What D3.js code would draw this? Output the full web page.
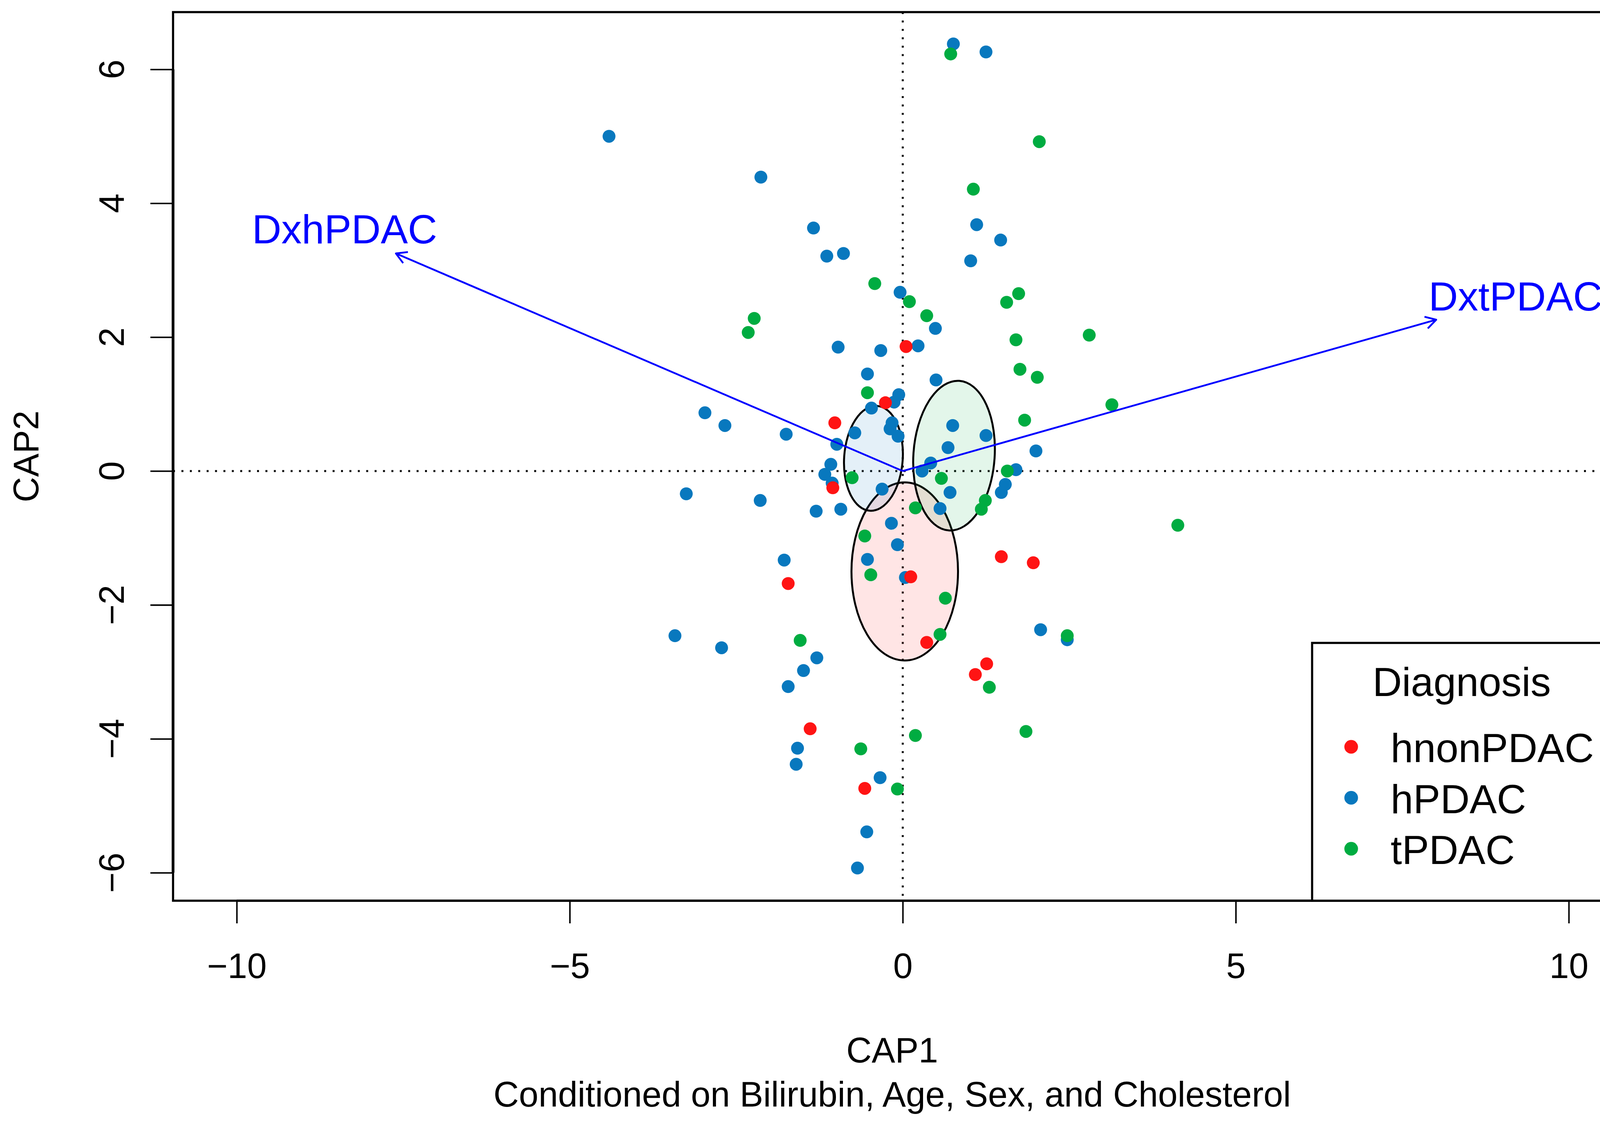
<!DOCTYPE html>
<html><head><meta charset="utf-8">
<script src="https://cdn.jsdelivr.net/npm/d3@7"></script>
<style>
body{margin:0;background:#fff}
svg{display:block}
text{font-family:"Liberation Sans",Arial,sans-serif}
</style>
</head><body>
<svg id="chart" width="4168" height="2870"></svg>
<script>
// ---------------- data ----------------
const groups = ["hnonPDAC", "hPDAC", "tPDAC"];
const groupColors = ["#FF1414", "#0878BE", "#00AC41"];

const hnonX = [0.05, -0.26, -1.02, -1.05, 0.12, -1.72, 1.48, 1.96, 0.36, 1.26, 1.09, -1.39, -0.57];
const hnonY = [1.86, 1.02, 0.72, -0.25, -1.58, -1.68, -1.28, -1.37, -2.56, -2.88, -3.04, -3.85, -4.74];

const hX = [-4.41, -2.13, -1.34, -1.14, -0.89, -0.04, -0.97, -0.33, 0.23, -0.53,
            -0.06, -0.13, -0.47, -2.97, -2.67, -1.75, -0.99, -0.72, -0.16, -0.19,
            -0.07, -1.08, -1.17, -1.06, -0.31, -3.25, -2.14, -1.30, -0.93, -0.17,
            -0.08, -0.53, 0.04, -1.78, -3.42, -2.72, -1.29, -1.49, -1.72, -1.58,
            -1.60, -0.34, -0.54, -0.68, 0.76, 1.25, 1.11, 1.47, 1.02, 0.49,
            0.50, 0.75, 1.25, 0.68, 2.00, 0.42, 0.29, 1.70, 1.54, 1.48,
            0.71, 0.56, 2.07, 2.47];
const hY = [5.00, 4.39, 3.63, 3.21, 3.25, 2.67, 1.85, 1.80, 1.87, 1.45,
            1.14, 1.03, 0.94, 0.87, 0.68, 0.55, 0.40, 0.57, 0.72, 0.63,
            0.52, 0.10, -0.05, -0.18, -0.27, -0.34, -0.44, -0.60, -0.57, -0.78,
            -1.10, -1.32, -1.59, -1.33, -2.46, -2.64, -2.79, -2.98, -3.22, -4.14,
            -4.38, -4.58, -5.39, -5.93, 6.38, 6.26, 3.68, 3.45, 3.14, 2.13,
            1.36, 0.68, 0.53, 0.35, 0.30, 0.12, 0.00, 0.02, -0.20, -0.32,
            -0.32, -0.56, -2.37, -2.52];

const tX = [0.72, 2.05, 1.06, -0.42, 0.10, -2.23, -2.32, 0.36, 1.74, 1.56,
            1.70, 2.80, 1.76, 2.02, -0.53, 3.14, 1.83, -0.76, 1.57, 0.58,
            1.24, 1.18, 0.19, -0.57, -0.48, 4.13, 0.64, 2.47, 0.56, -1.54,
            1.30, -0.63, 0.19, 1.85, -0.08];
const tY = [6.23, 4.92, 4.21, 2.80, 2.53, 2.28, 2.07, 2.32, 2.65, 2.52,
            1.96, 2.03, 1.52, 1.40, 1.17, 0.99, 0.76, -0.10, 0.00, -0.11,
            -0.44, -0.57, -0.55, -0.97, -1.55, -0.81, -1.90, -2.46, -2.44, -2.53,
            -3.23, -4.15, -3.95, -3.89, -4.75];

// ellipses (order: hnonPDAC, hPDAC, tPDAC)
const ellCX = [0.03, -0.44, 0.77];
const ellCY = [-1.50, 0.19, 0.23];
const ellRX = [0.80, 0.44, 0.61];
const ellRY = [1.33, 0.785, 1.12];
const ellAngle = [0, 4, 4];

// biplot arrows
const arrowNames = ["DxhPDAC", "DxtPDAC"];
const arrowX = [-7.61, 8.01];
const arrowY = [3.25, 2.26];
const arrowLabelX = [-8.38, 9.20];
const arrowLabelY = [3.61, 2.61];

const xTicks = [-10, -5, 0, 5, 10];
const yTicks = [-6, -4, -2, 0, 2, 4, 6];
const xDomain = [-10.956, 10.639];
const yDomain = [-6.418, 6.855];

const xTitle = "CAP1";
const subTitle = "Conditioned on Bilirubin, Age, Sex, and Cholesterol";
const yTitle = "CAP2";
const legendTitle = "Diagnosis";

// ---------------- drawing ----------------
const svg = d3.select("#chart");
const L = 443, R = 4125, T = 31, B = 2306;
const x = d3.scaleLinear().domain(xDomain).range([L, R]);
const y = d3.scaleLinear().domain(yDomain).range([B, T]);

svg.append("rect").attr("width", 4168).attr("height", 2870).attr("fill", "#fff");

const clip = svg.append("clipPath").attr("id", "pclip");
clip.append("rect").attr("x", L).attr("y", T).attr("width", R - L).attr("height", B - T);
const plot = svg.append("g").attr("clip-path", "url(#pclip)");

// dotted reference lines
plot.append("line").attr("x1", L).attr("x2", R).attr("y1", y(0)).attr("y2", y(0))
  .attr("stroke", "#000").attr("stroke-width", 5).attr("stroke-dasharray", "5,16.5");
plot.append("line").attr("x1", x(0)).attr("x2", x(0)).attr("y1", T).attr("y2", B)
  .attr("stroke", "#000").attr("stroke-width", 5).attr("stroke-dasharray", "5,16.5");

// ellipses
groups.forEach((g, i) => {
  const cx = x(ellCX[i]), cy = y(ellCY[i]);
  plot.append("ellipse")
    .attr("transform", `translate(${cx},${cy}) rotate(${ellAngle[i]})`)
    .attr("rx", x(ellCX[i] + ellRX[i]) - cx)
    .attr("ry", cy - y(ellCY[i] + ellRY[i]))
    .attr("fill", groupColors[i]).attr("fill-opacity", 0.11)
    .attr("stroke", "#000").attr("stroke-width", 5);
});

// points
const series = [
  {g: 1, xs: hX, ys: hY},
  {g: 0, xs: hnonX, ys: hnonY},
  {g: 2, xs: tX, ys: tY}
];
series.forEach(s => {
  const pts = s.xs.map((v, k) => [v, s.ys[k]]);
  plot.append("g").selectAll("circle").data(pts).join("circle")
    .attr("cx", d => x(d[0])).attr("cy", d => y(d[1])).attr("r", 16.5)
    .attr("fill", groupColors[s.g]);
});

// arrows
const blue = "#0000FF";
arrowNames.forEach((n, i) => {
  const x0 = x(0), y0 = y(0), x1 = x(arrowX[i]), y1 = y(arrowY[i]);
  const ang = Math.atan2(y1 - y0, x1 - x0);
  const hl = 31, ha = Math.PI / 6;
  const p = d3.path();
  p.moveTo(x0, y0); p.lineTo(x1, y1);
  p.moveTo(x1 - hl * Math.cos(ang - ha), y1 - hl * Math.sin(ang - ha));
  p.lineTo(x1, y1);
  p.lineTo(x1 - hl * Math.cos(ang + ha), y1 - hl * Math.sin(ang + ha));
  svg.append("path").attr("d", p.toString()).attr("fill", "none")
    .attr("stroke", blue).attr("stroke-width", 4.6).attr("stroke-linejoin", "round");
  svg.append("text").attr("x", x(arrowLabelX[i])).attr("y", y(arrowLabelY[i]))
    .attr("text-anchor", "middle").attr("dominant-baseline", "central")
    .attr("fill", blue).attr("font-size", 104).text(n);
});

// axes
const xAxis = d3.axisBottom(x).tickValues(xTicks).tickSize(58).tickSizeOuter(0).tickPadding(76);
const gx = svg.append("g").attr("transform", `translate(0,${B})`).call(xAxis);
gx.select(".domain").remove();
gx.selectAll(".tick line").attr("stroke", "#000").attr("stroke-width", 3.8);
gx.selectAll(".tick text").attr("font-size", 90).attr("fill", "#000")
  .attr("font-family", '"Liberation Sans",Arial,sans-serif');
svg.append("line").attr("x1", x(xTicks[0])).attr("x2", x(xTicks[xTicks.length - 1]))
  .attr("y1", B).attr("y2", B).attr("stroke", "#000").attr("stroke-width", 6);

const yAxis = d3.axisLeft(y).tickValues(yTicks).tickSize(58).tickSizeOuter(0).tickFormat("");
const gy = svg.append("g").attr("transform", `translate(${L},0)`).call(yAxis);
gy.select(".domain").remove();
gy.selectAll(".tick line").attr("stroke", "#000").attr("stroke-width", 3.8);
svg.append("line").attr("x1", L).attr("x2", L)
  .attr("y1", y(yTicks[0])).attr("y2", y(yTicks[yTicks.length - 1]))
  .attr("stroke", "#000").attr("stroke-width", 7);
svg.append("g").selectAll("text").data(yTicks).join("text")
  .attr("transform", d => `translate(317,${y(d)}) rotate(-90)`)
  .attr("text-anchor", "middle").attr("font-size", 90).attr("fill", "#000")
  .text(d => String(d).replace("-", "\u2212"));

// box
svg.append("rect").attr("x", L).attr("y", T).attr("width", R - L).attr("height", B - T)
  .attr("fill", "none").attr("stroke", "#000").attr("stroke-width", 5.5);

// titles
svg.append("text").attr("x", (L + R) / 2).attr("y", 2720).attr("text-anchor", "middle")
  .attr("font-size", 90).text(xTitle);
svg.append("text").attr("x", (L + R) / 2).attr("y", 2833).attr("text-anchor", "middle")
  .attr("font-size", 90).text(subTitle);
svg.append("text").attr("transform", `translate(98,${(T + B) / 2}) rotate(-90)`)
  .attr("text-anchor", "middle").attr("font-size", 90).text(yTitle);

// legend
const lg = svg.append("g");
lg.append("rect").attr("x", 3359).attr("y", 1646).attr("width", R - 3359).attr("height", B - 1646)
  .attr("fill", "#fff").attr("stroke", "#000").attr("stroke-width", 5.5);
lg.append("text").attr("x", (3359 + R) / 2).attr("y", 1782).attr("text-anchor", "middle")
  .attr("font-size", 104).text(legendTitle);
groups.forEach((g, i) => {
  const yy = 1951 + i * 130.5;
  lg.append("circle").attr("cx", 3459).attr("cy", yy - 39).attr("r", 17.5).attr("fill", groupColors[i]);
  lg.append("text").attr("x", 3560).attr("y", yy).attr("font-size", 104).text(g);
});
</script>
</body></html>
